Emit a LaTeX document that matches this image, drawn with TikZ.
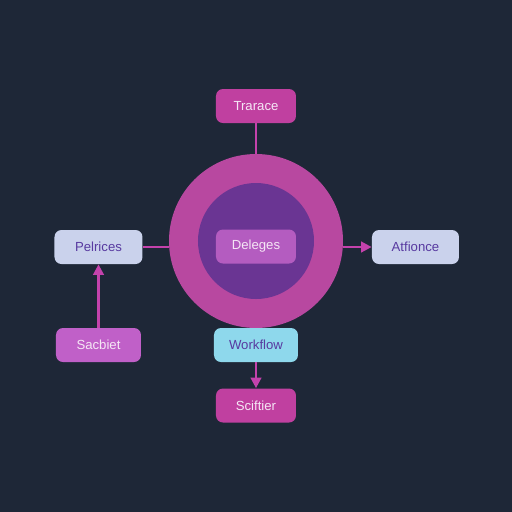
\documentclass[tikz,border=0pt]{standalone}
\usepackage{fontspec}
\setmainfont{Liberation Sans}
\usetikzlibrary{arrows.meta}
\definecolor{bg}{RGB}{30,39,55}
\definecolor{mag}{RGB}{192,64,160}
\definecolor{ring}{RGB}{184,72,160}
\definecolor{inner}{RGB}{106,53,147}
\definecolor{delbox}{RGB}{180,92,192}
\definecolor{lav}{RGB}{202,210,236}
\definecolor{lavtext}{RGB}{88,58,160}
\definecolor{orchid}{RGB}{192,96,200}
\definecolor{cyanbox}{RGB}{142,216,236}
\definecolor{wire}{RGB}{196,66,172}
\definecolor{lighttext}{RGB}{245,230,245}
\tikzset{
  box/.style={rounded corners=7*0.02cm, minimum width=#1*0.02cm, minimum height=34*0.02cm, inner sep=0pt, font=\fontsize{7.5}{9}\selectfont},
  box/.default=80,
  wireline/.style={draw=wire, line width=1.4pt},
  arr/.style={wireline, -{Triangle[length=6pt,width=6pt]}}
}
\begin{document}
\begin{tikzpicture}[x=0.02cm,y=-0.02cm]
\fill[bg] (0,0) rectangle (512,512);
\useasboundingbox (0,0) rectangle (512,512);
% circles
\fill[ring] (256,241) circle[radius=87*0.02cm];
\fill[inner] (256,241) circle[radius=58*0.02cm];
\coordinate (ctop) at (256,154);
\coordinate (cleft) at (169,247);
\coordinate (cright) at (343,247);
% nodes
\node[box=80, fill=mag, text=lighttext] (trarace) at (256,106) {Trarace};
\node[box=80, fill=delbox, text=lighttext] (deleges) at (256,246.5) {Deleges};
\node[box=88, fill=lav, text=lavtext] (pelrices) at (98.5,247) {Pelrices};
\node[box=85, fill=orchid, text=lighttext] (sacbiet) at (98.5,345) {Sacbiet};
\node[box=87, fill=lav, text=lavtext] (atfionce) at (415.5,247) {Atfionce};
\node[box=84, fill=cyanbox, text=lavtext] (workflow) at (256,345) {Workflow};
\node[box=80, fill=mag, text=lighttext] (sciftier) at (256,405.5) {Sciftier};
% connectors
\draw[wireline] (trarace.south) -- (ctop);
\draw[wireline] (pelrices.east) -- (cleft);
\draw[arr] (cright) -- (atfionce.west);
\draw[arr] (sacbiet.north) -- (pelrices.south);
\draw[arr] (workflow.south) -- (sciftier.north);
\end{tikzpicture}
\end{document}
